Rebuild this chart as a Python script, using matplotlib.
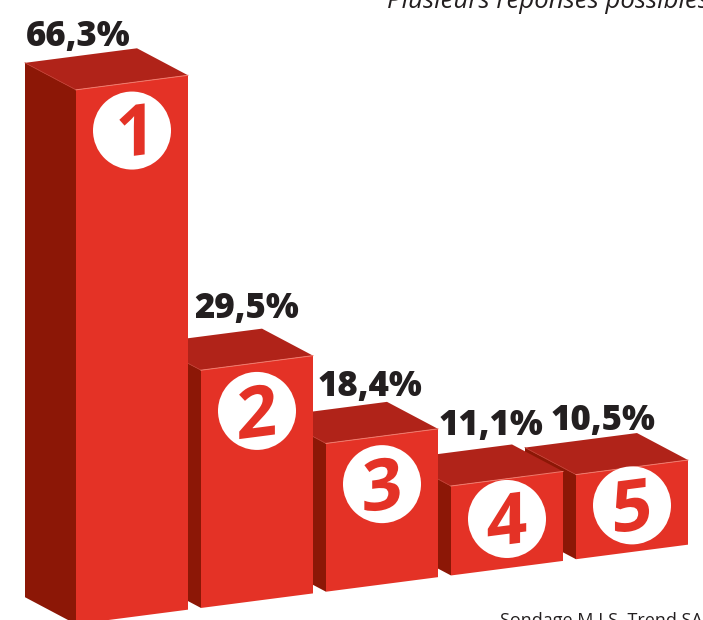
import numpy as np
import matplotlib.pyplot as plt
from matplotlib.patches import Polygon, Circle, PathPatch
from matplotlib.textpath import TextPath
from matplotlib.font_manager import FontProperties
from matplotlib.transforms import Affine2D

ranks = ["1", "2", "3", "4", "5"]
values = [66.3, 29.5, 18.4, 11.1, 10.5]
labels = ["66,3%", "29,5%", "18,4%", "11,1%", "10,5%"]

# label placement tweaks (px), relative to front-top centre of each bar
label_dx = [-54, -10, -12, -16, -29]
label_dy = [-44, -52, -47, -51, -45]

front_c = "#E43226"
top_c = "#B02319"
side_c = "#8C1706"
ink = "#231F20"

# pseudo 3d geometry (pixel units)
u0, pitch, width = 76, 125, 112
slope = 0.13
scale = 8.06          # px per percent
depth = (-51, -27)

def base_y(u):
    return 634.1 - slope * u

fig = plt.figure(figsize=(7.03, 6.20), dpi=100)
ax = fig.add_axes([0, 0, 1, 1])
ax.set_xlim(0, 703)
ax.set_ylim(620, 0)
ax.axis('off')

fp = FontProperties(family="Open Sans", weight="bold")

for i in reversed(range(len(values))):
    x0 = u0 + i * pitch
    x1 = x0 + width
    h = values[i] * scale
    b0, b1 = base_y(x0), base_y(x1)
    t0, t1 = b0 - h, b1 - h
    dx, dy = depth
    z = 10 + (len(values) - i) * 3

    side = [(x0, b0), (x0, t0), (x0 + dx, t0 + dy), (x0 + dx, b0 + dy)]
    top = [(x0, t0), (x1, t1), (x1 + dx, t1 + dy), (x0 + dx, t0 + dy)]
    front = [(x0, b0), (x1, b1), (x1, t1), (x0, t0)]
    ax.add_patch(Polygon(side, closed=True, fc=side_c, ec='none', zorder=z))
    ax.add_patch(Polygon(top, closed=True, fc=top_c, ec='none', zorder=z))
    ax.add_patch(Polygon(front, closed=True, fc=front_c, ec='none', zorder=z + 1))
    ax.plot([x0, x1], [t0, t1], color="#F07A6C", lw=0.7, zorder=z + 1)
    ax.plot([x0, x0 + dx], [t0, t0 + dy], color="#C0392E", lw=0.6, zorder=z)

    # white disc with rank number, sheared like the front face
    cx = x0 + width / 2
    ct = base_y(cx) - h
    cy = ct + min(48, 0.45 * h)
    ax.add_patch(Circle((cx, cy), 39, fc='white', ec='none', zorder=z + 2))
    tp = TextPath((0, 0), ranks[i], size=1, prop=fp)
    bb = tp.get_extents()
    s = 51 / 0.714
    tr = (Affine2D().translate(-(bb.x0 + bb.x1) / 2, -(bb.y0 + bb.y1) / 2)
          .scale(s, -s)
          + Affine2D(np.array([[1, 0, 0], [-slope, 1, 0], [0, 0, 1]]))
          + Affine2D().translate(cx, cy))
    ax.add_patch(PathPatch(tr.transform_path(tp), fc=front_c, ec='none', zorder=z + 3))

    ax.text(cx + label_dx[i], t0 + label_dy[i], labels[i], ha='center', va='baseline',
            fontsize=25, fontweight='heavy', family="Open Sans", color=ink, zorder=40)

ax.text(387, 8, "Plusieurs réponses possibles", ha='left', va='baseline',
        fontsize=18.5, style='italic', family="Open Sans", color=ink)
ax.text(500, 626, "Sondage M.I.S. Trend SA", ha='left', va='baseline',
        fontsize=13, family="Open Sans", color=ink)

fig.savefig("out.png", dpi=100)
